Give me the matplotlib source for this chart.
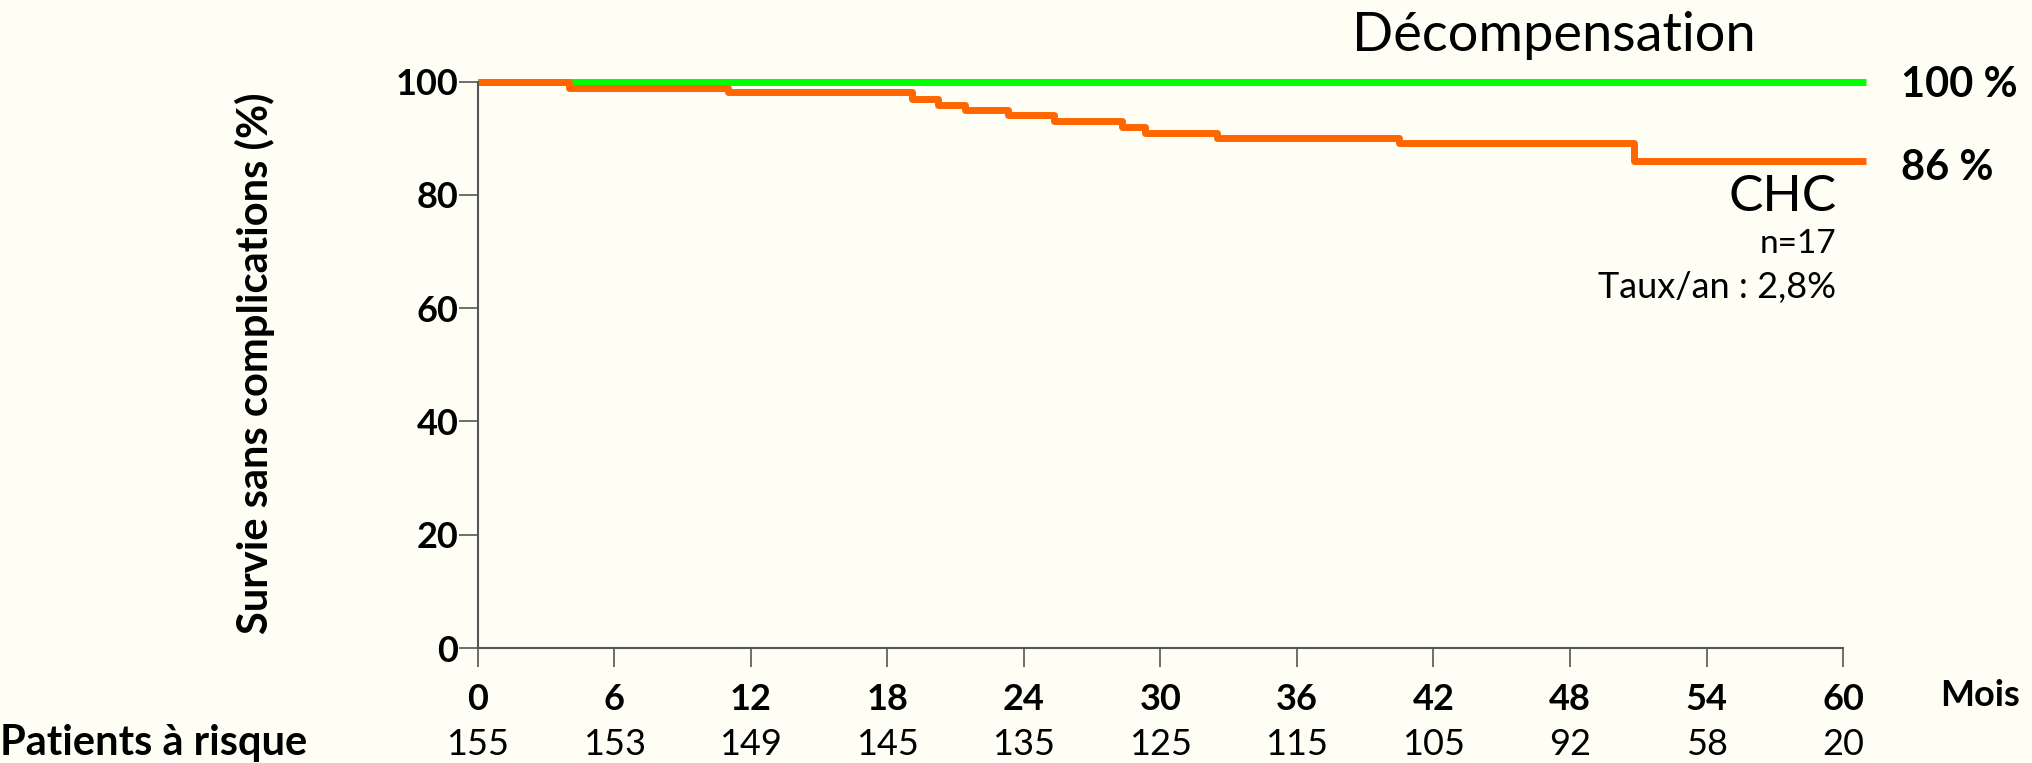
import matplotlib
matplotlib.use('Agg')
import matplotlib.pyplot as plt

plt.rcParams['font.family'] = ['Lato', 'DejaVu Sans']

# Data
months = [0, 4, 11, 19.1, 20.2, 21.4, 23.3, 25.3, 28.3, 29.3, 32.5, 40.5, 50.8, 61]
chc = [100, 98.9, 98.2, 96.9, 95.9, 95.0, 94.1, 93.1, 92.0, 90.9, 90.1, 89.2, 86.0, 86.0]
decomp_months = [0, 61]
decomp = [100, 100]
xticks = [0, 6, 12, 18, 24, 30, 36, 42, 48, 54, 60]
at_risk = [155, 153, 149, 145, 135, 125, 115, 105, 92, 58, 20]
yticks = [0, 20, 40, 60, 80, 100]

bg = '#fffef5'
fig = plt.figure(figsize=(20.32, 7.63), dpi=100, facecolor=bg)
ax = fig.add_axes([0.2352, 0.1507, 0.6830, 0.7424], facecolor=bg)

ax.plot(decomp_months, decomp, color='#00ff00', lw=5, clip_on=False, solid_capstyle='butt')
ax.step(months, chc, where='post', color='#ff6600', lw=5, clip_on=False, solid_capstyle='butt')

ax.set_xlim(0, 61)
ax.set_ylim(0, 100)
for s in ['top', 'right']:
    ax.spines[s].set_visible(False)
ax.spines['bottom'].set_bounds(0, 60)
for s in ['left', 'bottom']:
    ax.spines[s].set_color('#555555')
    ax.spines[s].set_linewidth(1.5)

ax.set_xticks(xticks)
ax.set_yticks(yticks)
ax.tick_params(axis='both', direction='out', length=14, width=1.2, color='#555555')
ax.tick_params(axis='x', pad=11, labelsize=26)
ax.tick_params(axis='y', pad=0, labelsize=26)
for lab in ax.get_xticklabels() + ax.get_yticklabels():
    lab.set_fontweight('bold')

# Patients at risk row
for x, n in zip(xticks, at_risk):
    ax.text(x, -0.171, str(n), transform=ax.get_xaxis_transform(),
            ha='center', va='center', fontsize=26)
fig.text(0.0, (763 - 743) / 763, 'Patients à risque', ha='left', va='center',
         fontsize=30, fontweight='bold')
fig.text(0.9746, (763 - 696) / 763, 'Mois', ha='center', va='center',
         fontsize=26, fontweight='bold')

fig.text(0.1255, 0.524, 'Survie sans complications (%)', rotation=90,
         ha='center', va='center', fontsize=30, fontweight='bold')

# Annotations
ax.text(47.3, 108.2, 'Décompensation', ha='center', va='center', fontsize=39, clip_on=False)
ax.text(62.55, 99.4, '100 %', ha='left', va='center', fontsize=30, fontweight='bold', clip_on=False)
ax.text(62.55, 84.7, '86 %', ha='left', va='center', fontsize=30, fontweight='bold', clip_on=False)
ax.text(59.7, 79.6, 'CHC', ha='right', va='center', fontsize=37)
ax.text(59.7, 71.3, 'n=17', ha='right', va='center', fontsize=24)
ax.text(59.7, 63.6, 'Taux/an : 2,8%', ha='right', va='center', fontsize=26)

fig.savefig('out.png', dpi=100, facecolor=bg)
